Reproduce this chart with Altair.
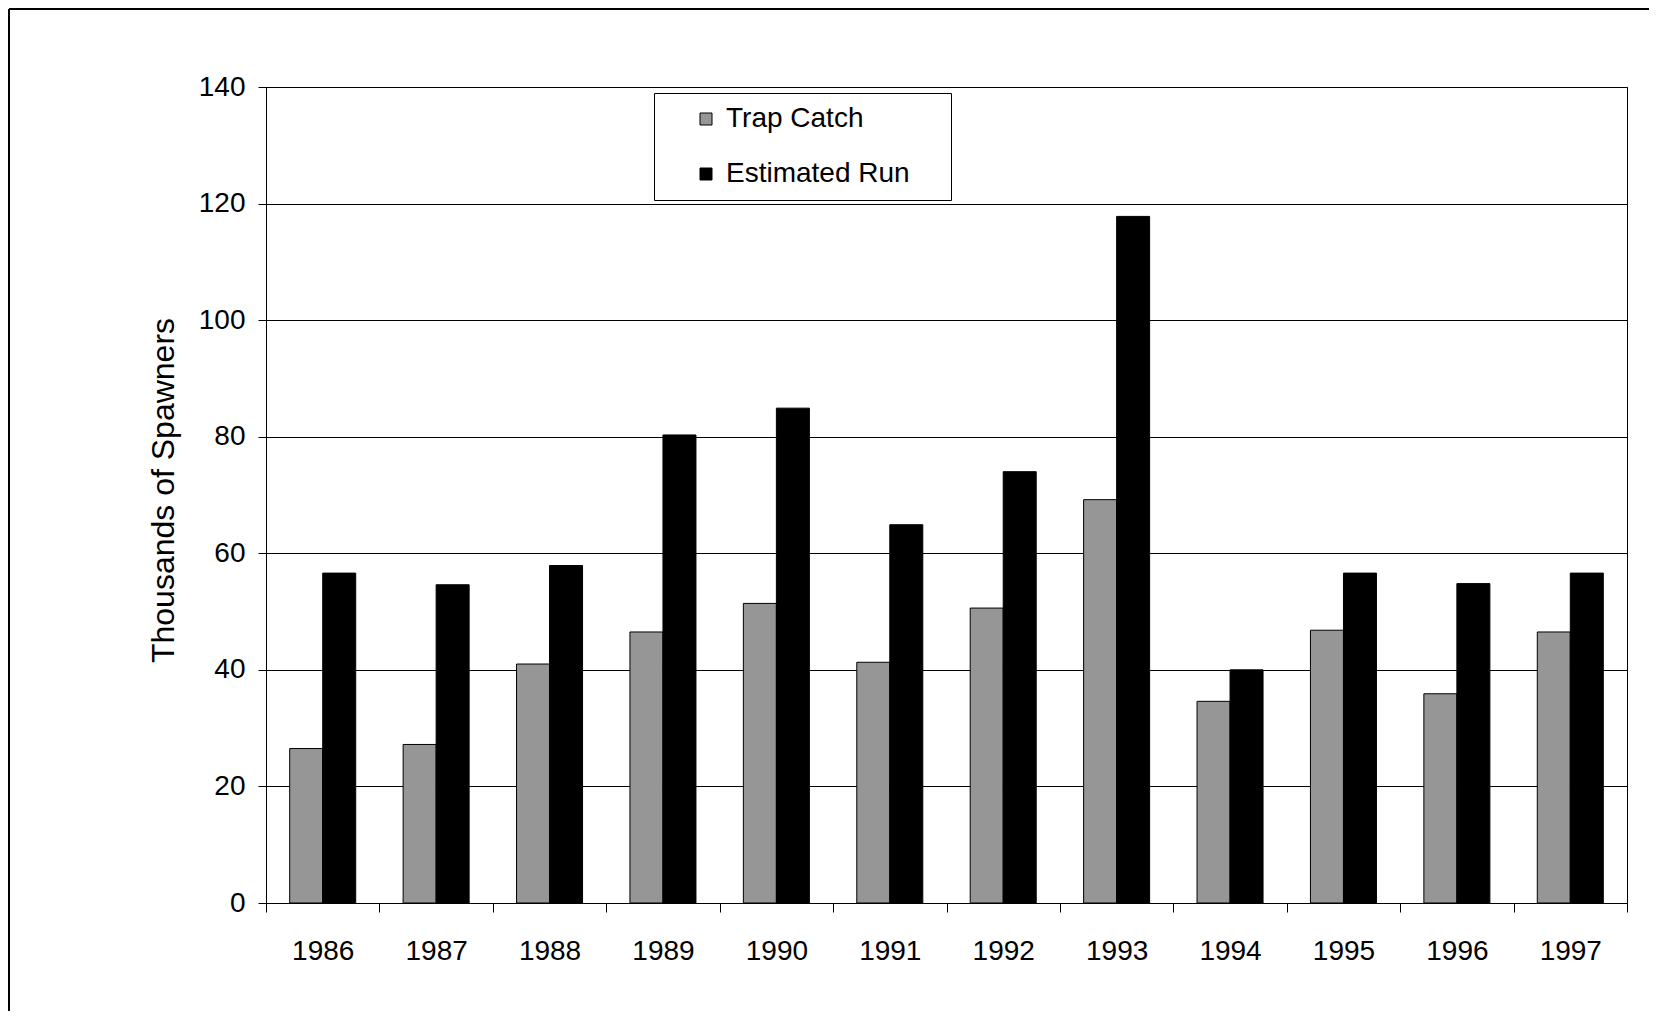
import altair as alt
import pandas as pd

years = ["1986", "1987", "1988", "1989", "1990", "1991",
         "1992", "1993", "1994", "1995", "1996", "1997"]
trap_catch = [26.5, 27.2, 41.0, 46.5, 51.4, 41.3, 50.6, 69.2, 34.6, 46.8, 35.9, 46.5]
estimated_run = [56.6, 54.6, 57.9, 80.3, 84.9, 64.9, 74.0, 117.8, 40.0, 56.6, 54.8, 56.6]
series = ["Trap Catch", "Estimated Run"]
colors = ["#969696", "#000000"]
y_ticks = [0, 20, 40, 60, 80, 100, 120, 140]

rows = []
for i, yr in enumerate(years):
    rows.append({"year": yr, "series": series[0], "value": trap_catch[i]})
    rows.append({"year": yr, "series": series[1], "value": estimated_run[i]})
df = pd.DataFrame(rows)

FONT = "Liberation Sans"

bars = alt.Chart(df).mark_bar(stroke="black", strokeWidth=1).encode(
    x=alt.X(
        "year:N",
        sort=years,
        scale=alt.Scale(paddingInner=0, paddingOuter=0),
        axis=alt.Axis(
            title=None, labelAngle=0, tickBand="extent", ticks=True, tickSize=9,
            labelPadding=25, grid=False, domainColor="black", tickColor="black",
            labelFontSize=28, labelFont=FONT, labelColor="black",
        ),
    ),
    xOffset=alt.XOffset(
        "series:N", sort=series,
        scale=alt.Scale(domain=series, paddingOuter=0.718, paddingInner=0),
    ),
    y=alt.Y(
        "value:Q",
        scale=alt.Scale(domain=[0, 140], nice=False),
        axis=alt.Axis(
            values=y_ticks, title="Thousands of Spawners", tickSize=8, labelPadding=13,
            grid=True, gridColor="black", gridWidth=1, domainColor="black",
            tickColor="black", labelFontSize=28, labelFont=FONT, labelColor="black",
            titleFont=FONT, titleFontSize=32, titleFontWeight="normal", titleColor="black",
            titleX=-93, titleY=403, titleBaseline="alphabetic", titleAngle=270,
            titleAlign="center",
        ),
    ),
    color=alt.Color(
        "series:N", sort=series,
        scale=alt.Scale(domain=series, range=colors),
        legend=alt.Legend(
            title=None, orient="none", legendX=388, legendY=6, padding=12,
            fillColor="white", strokeColor="black", symbolType="square",
            symbolSize=144, symbolStrokeColor="black", symbolStrokeWidth=1,
            labelFontSize=28, labelFont=FONT, labelColor="black", labelLimit=600,
            labelOffset=6, symbolOffset=26, rowPadding=27,
            labelExpr="datum.label + '\u00a0\u2800'",
        ),
    ),
)

frame = pd.DataFrame({"k": [0]})
frame_top = alt.Chart(frame).mark_rule(color="black", strokeWidth=2).encode(
    x=alt.value(-257), x2=alt.value(1500), y=alt.value(-78)
)
frame_left = alt.Chart(frame).mark_rule(color="black", strokeWidth=2).encode(
    x=alt.value(-257), y=alt.value(-78), y2=alt.value(1000)
)

chart = alt.layer(bars, frame_top, frame_left).properties(
    width=1361, height=816,
    autosize=alt.AutoSizeParams(type="none"),
    padding={"left": 258, "top": 79, "right": 22, "bottom": 108},
    background="white",
).configure_view(stroke="black", strokeWidth=1)

chart.save("out.html", embed_options={"renderer": "svg", "actions": False})
